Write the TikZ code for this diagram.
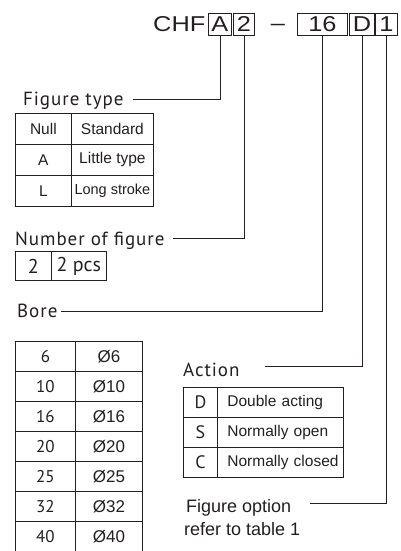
\documentclass[tikz,border=0pt]{standalone}
\usepackage{fontspec}
\setmainfont{Liberation Sans}
\newfontfamily\lblfont[LetterSpace=5]{PT Sans}
\newfontfamily\numfont{PT Sans}
\newfontfamily\hdrfont[FakeStretch=1.18]{Liberation Sans}
\definecolor{ink}{HTML}{231F20}
\begin{document}
\begin{tikzpicture}[x=1pt,y=-1pt,
  every node/.style={text=ink},
  hbox/.style={draw=ink, line width=0.9pt, inner sep=0pt, minimum height=22pt, font=\hdrfont\fontsize{21.5}{21.5}\selectfont},
  lead/.style={draw=ink, line width=0.8pt},
  lbl/.style={anchor=base west, inner sep=0pt, font=\lblfont\fontsize{19}{19}\selectfont},
  cell/.style={draw=ink, line width=0.8pt, anchor=north west, inner sep=0pt},
  ttxt/.style={font=\fontsize{15.5}{15.5}\selectfont},
  ntxt/.style={font=\numfont\fontsize{17}{17}\selectfont},
  atxt/.style={font=\fontsize{15.5}{15.5}\selectfont, text width=126pt, align=left},
  optxt/.style={anchor=base west, inner sep=0pt, font=\fontsize{18}{18}\selectfont},
]
\useasboundingbox (0,0) rectangle (400,551);
% header
\node[anchor=base west, inner sep=0pt, font=\hdrfont\fontsize{21.5}{21.5}\selectfont] (chf) at (153,32) {CHF};
\node[hbox, minimum width=23pt, anchor=north west] (hA) at (208,13) {A};
\node[hbox, minimum width=21pt, anchor=north west] (h2) at (233,13) {2};
\node[anchor=base, inner sep=0pt, font=\hdrfont\fontsize{21.5}{21.5}\selectfont] (dash) at (278,31) {\textendash};
\node[hbox, minimum width=50pt, anchor=north west] (h16) at (297,13) {16};
\node[hbox, minimum width=25pt, anchor=north west] (hD) at (349,13) {D};
\node[hbox, minimum width=22pt, anchor=north west] (h1) at (375,13) {1};

% labels
\node[lbl] (ft) at (23,105) {Figure type};
\node[lbl] (nf) at (15,245.5) {Number of figure};
\node[lbl] (bo) at (17,317) {Bore};
\node[lbl] (ac) at (183,376) {Action};
\node[optxt] (fo) at (186,512.5) {Figure option};
\node[optxt] (rt) at (184,535.5) {refer to table 1};

% leaders
\coordinate (ftend) at (133,99);
\coordinate (nfend) at (173,238);
\coordinate (boend) at (61,311);
\coordinate (acend) at (265,366);
\coordinate (foend) at (310,503);
\draw[lead] (hA.south) |- (ftend);
\draw[lead] (h2.south) |- (nfend);
\draw[lead] (h16.south) |- (boend);
\draw[lead] (hD.south) |- (acend);
\draw[lead] (h1.south) |- (foend);

% Figure type table
\foreach \a/\b/\s [count=\i from 0] in {Null/Standard/15.5, A/Little type/15.5, L/Long stroke/14.5}{
  \node[cell, minimum width=56pt, minimum height=31pt, ttxt] (fta\i) at (15,113+31*\i) {\a};
  \node[cell, minimum width=82pt, minimum height=31pt, font=\fontsize{\s}{\s}\selectfont] (ftb\i) at (71,113+31*\i) {\b};
}

% Number of figure table
\node[cell, minimum width=36pt, minimum height=29pt, font=\numfont\fontsize{20}{20}\selectfont] (nfa) at (15,251) {2};
\node[cell, minimum width=55pt, minimum height=29pt, font=\numfont\fontsize{20}{20}\selectfont] (nfb) at (51,251) {2 pcs};

% Bore table
\foreach \a/\b [count=\i from 0] in {6/\O6, 10/\O10, 16/\O16, 20/\O20, 25/\O25, 32/\O32, 40/\O40}{
  \node[cell, minimum width=60pt, minimum height=30pt, ntxt] (ba\i) at (15,341+30*\i) {\a};
  \node[cell, minimum width=67pt, minimum height=30pt, font=\fontsize{17}{17}\selectfont] (bb\i) at (75,341+30*\i) {\b};
}

% Action table
\foreach \a/\b [count=\i from 0] in {D/Double acting, S/Normally open, C/Normally closed}{
  \node[cell, minimum width=34pt, minimum height=30pt, font=\numfont\fontsize{18}{18}\selectfont] (aa\i) at (183,387+30*\i) {\a};
  \node[cell, minimum height=30pt, atxt] (ab\i) at (217,387+30*\i) {\hspace*{10pt}\b};
}
\end{tikzpicture}
\end{document}
